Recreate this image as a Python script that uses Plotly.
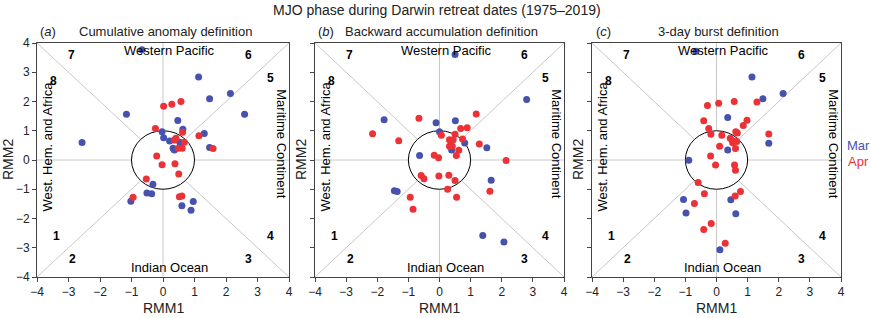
import plotly.graph_objects as go
import numpy as np

# ---------------- data ----------------
panel_titles = ["Cumulative anomaly definition", "Backward accumulation definition", "3-day burst definition"]
panel_letters = ["a", "b", "c"]

a_mar_x = [-0.67, 1.13, 1.48, 2.14, 2.59, -1.16, -2.57, 0.47, 0.63, -0.03, 0.02, 0.21, 0.53, 1.31, 1.48, 0.32, 0.36, -0.32, -0.51, -0.36, -1.02, 0.60, 0.96, 0.89]
a_mar_y = [3.77, 2.84, 2.09, 2.27, 1.56, 1.56, 0.60, 1.35, 1.05, 0.97, 0.76, 0.65, 0.61, 0.91, 0.43, 0.40, 0.34, -0.83, -1.13, -1.15, -1.41, -1.56, -1.42, -1.72]
a_apr_x = [0.02, 0.28, 0.57, -0.24, 0.62, 0.41, 0.36, 0.68, 0.49, 0.61, 1.14, 1.59, -0.20, -0.03, 0.38, 0.50, -0.53, -0.95, 0.52, 0.60]
a_apr_y = [1.84, 1.91, 2.00, 1.08, 0.95, 0.74, 0.68, 0.61, 0.40, 0.40, 0.83, 0.39, 0.14, -0.16, -0.13, -0.48, -0.65, -1.27, -1.26, -1.23]

b_mar_x = [0.50, 2.80, -1.78, -0.11, 0.51, 0.00, 0.81, 0.39, 1.52, -0.64, 1.66, -1.45, -1.36, 1.39, 2.07]
b_mar_y = [3.61, 2.07, 1.38, 1.27, 1.34, 0.97, 0.58, 0.34, 0.42, 0.15, -0.69, -1.05, -1.08, -2.58, -2.80]
b_apr_x = [1.18, -0.66, 0.68, 0.89, -2.15, -1.31, 0.06, 0.50, 0.32, 0.44, 0.74, 0.32, 0.41, 0.62, 1.28, 0.54, -0.17, -0.03, 2.14, -0.59, -0.50, -0.02, 0.30, 0.50, 0.26, 0.55, 1.62, -0.94, -0.85]
b_apr_y = [1.57, 1.43, 1.08, 1.10, 0.90, 0.66, 0.85, 0.88, 0.69, 0.69, 0.72, 0.47, 0.47, 0.33, 0.55, 0.15, 0.16, 0.08, -0.02, -0.53, -0.64, -0.55, -0.52, -0.70, -1.00, -1.27, -1.07, -1.27, -1.68]

c_mar_x = [-0.66, 1.14, 1.49, 2.14, 0.36, 1.68, 0.36, -0.89, -1.06, -0.98, 0.46, 0.62, 0.11]
c_mar_y = [3.72, 2.84, 2.09, 2.27, 1.45, 0.57, 0.34, -0.01, -1.35, -1.81, -1.36, -1.84, -3.07]
c_apr_x = [-0.29, 0.07, 0.57, 1.30, -0.41, 0.98, 0.86, -0.25, -0.18, 0.17, 0.62, 0.67, 0.44, 0.51, 0.65, 0.52, 1.68, 0.10, 0.61, -0.19, -0.03, 0.58, 0.61, -0.59, -0.39, -0.71, 0.60, 0.77, -0.17, -0.41, 0.28]
c_apr_y = [1.86, 1.94, 2.00, 1.98, 1.34, 1.36, 1.18, 1.08, 0.88, 0.85, 0.97, 0.92, 0.74, 0.66, 0.63, 0.59, 0.89, 0.47, 0.39, 0.14, -0.17, -0.17, -0.35, -0.77, -1.15, -1.49, -1.23, -1.08, -2.17, -2.38, -2.85]

tick_vals = [-4, -3, -2, -1, 0, 1, 2, 3, 4]
phase_labels = ["1", "2", "3", "4", "5", "6", "7", "8"]
region_labels = ["Western Pacific", "Indian Ocean", "West. Hem. and Africa", "Maritime Continent"]
legend_labels = ["Mar", "Apr"]

BLUE = "#4652AE"
RED = "#EC3236"
TXT = "#222222"
FONT = "Liberation Sans, Arial, sans-serif"

W, H = 871, 318
x_px = [(37, 289), (315, 564), (592, 841)]
y_px = (43, 277)
rmm2_x = [8, 301, 578]


def px_x(p):
    return p / W


def px_y(p):
    return 1 - p / H


fig = go.Figure()
panels = [(a_mar_x, a_mar_y, a_apr_x, a_apr_y), (b_mar_x, b_mar_y, b_apr_x, b_apr_y), (c_mar_x, c_mar_y, c_apr_x, c_apr_y)]

layout = dict()
annotations = []
shapes = []
r = 1.0
d = r / np.sqrt(2)
seg = [(-4, 0, -r, 0), (r, 0, 4, 0), (0, -4, 0, -r), (0, r, 0, 4),
       (-4, -4, -d, -d), (d, d, 4, 4), (-4, 4, -d, d), (d, -d, 4, -4)]
phase_pos = [(-3.37, -2.59), (-2.87, -3.39), (2.72, -3.39), (3.41, -2.59),
             (3.41, 2.81), (2.72, 3.58), (-2.89, 3.58), (-3.47, 2.70)]

for i, (mx, my, ax_, ay_) in enumerate(panels):
    xa = "x" if i == 0 else f"x{i+1}"
    ya = "y" if i == 0 else f"y{i+1}"
    xkey = "xaxis" if i == 0 else f"xaxis{i+1}"
    ykey = "yaxis" if i == 0 else f"yaxis{i+1}"
    fig.add_trace(go.Scatter(x=mx, y=my, mode="markers", xaxis=xa, yaxis=ya,
                             marker=dict(color=BLUE, size=7), showlegend=False))
    fig.add_trace(go.Scatter(x=ax_, y=ay_, mode="markers", xaxis=xa, yaxis=ya,
                             marker=dict(color=RED, size=7), showlegend=False))
    x0, x1 = x_px[i]
    common = dict(range=[-4, 4], tickvals=tick_vals, ticks="outside", ticklen=4,
                  tickcolor="#444", showgrid=False, zeroline=False, showline=True,
                  linecolor="#444", linewidth=1, mirror=True, automargin=False,
                  tickfont=dict(family=FONT, size=12, color=TXT), fixedrange=True)
    layout[xkey] = dict(domain=[px_x(x0), px_x(x1)], anchor=ya, **common)
    layout[ykey] = dict(domain=[px_y(y_px[1]), px_y(y_px[0])], anchor=xa,
                        showticklabels=(i == 0), **common)
    for (sx0, sy0, sx1, sy1) in seg:
        shapes.append(dict(type="line", xref=xa, yref=ya, x0=sx0, y0=sy0, x1=sx1, y1=sy1,
                           line=dict(color="#C8C8C8", width=1), layer="below"))
    shapes.append(dict(type="circle", xref=xa, yref=ya, x0=-r, y0=-r, x1=r, y1=r,
                       line=dict(color="black", width=1), layer="below"))
    for lab, (px, py) in zip(phase_labels, phase_pos):
        annotations.append(dict(x=px, y=py, xref=xa, yref=ya, text=f"<b>{lab}</b>", showarrow=False,
                                xanchor="center", yanchor="middle",
                                font=dict(family=FONT, size=12, color="black")))
    annotations.append(dict(x=0.22, y=3.73, xref=xa, yref=ya, text=region_labels[0], showarrow=False,
                            xanchor="center", yanchor="middle",
                            font=dict(family=FONT, size=13, color="black")))
    annotations.append(dict(x=0.2, y=-3.69, xref=xa, yref=ya, text=region_labels[1], showarrow=False,
                            xanchor="center", yanchor="middle",
                            font=dict(family=FONT, size=13, color="black")))
    annotations.append(dict(x=-3.66, y=0.45, xref=xa, yref=ya, text=region_labels[2], showarrow=False,
                            textangle=-90, xanchor="center", yanchor="middle",
                            font=dict(family=FONT, size=13, color="black")))
    annotations.append(dict(x=3.78, y=0.57, xref=xa, yref=ya, text=region_labels[3], showarrow=False,
                            textangle=90, xanchor="center", yanchor="middle",
                            font=dict(family=FONT, size=13, color="black")))
    # axis titles
    annotations.append(dict(x=px_x((x0 + x1) / 2), y=px_y(308), xref="paper", yref="paper",
                            text="RMM1", showarrow=False, xanchor="center", yanchor="middle",
                            font=dict(family=FONT, size=14, color=TXT)))
    annotations.append(dict(x=px_x(rmm2_x[i]), y=px_y(160), xref="paper", yref="paper",
                            text="RMM2", showarrow=False, textangle=-90, xanchor="center", yanchor="middle",
                            font=dict(family=FONT, size=14, color=TXT)))
    # panel subtitles
    annotations.append(dict(x=px_x(x0 + 11), y=px_y(32), xref="paper", yref="paper",
                            text=f"(<i>{panel_letters[i]}</i>)", showarrow=False,
                            xanchor="center", yanchor="middle",
                            font=dict(family=FONT, size=13, color=TXT)))
    annotations.append(dict(x=px_x((x0 + x1) / 2 + 2), y=px_y(32), xref="paper", yref="paper",
                            text=panel_titles[i], showarrow=False,
                            xanchor="center", yanchor="middle",
                            font=dict(family=FONT, size=13, color=TXT)))

annotations.append(dict(x=px_x(437), y=px_y(10), xref="paper", yref="paper",
                        text="MJO phase during Darwin retreat dates (1975–2019)", showarrow=False,
                        xanchor="center", yanchor="middle",
                        font=dict(family=FONT, size=14, color=TXT)))
annotations.append(dict(x=px_x(858), y=px_y(145), xref="paper", yref="paper", text=legend_labels[0],
                        showarrow=False, xanchor="center", yanchor="middle", borderpad=0,
                        font=dict(family=FONT, size=13, color=BLUE)))
annotations.append(dict(x=px_x(858), y=px_y(161), xref="paper", yref="paper", text=legend_labels[1],
                        showarrow=False, xanchor="center", yanchor="middle", borderpad=0,
                        font=dict(family=FONT, size=13, color=RED)))

fig.update_layout(width=W, height=H, margin=dict(l=0, r=0, t=0, b=0, pad=0, autoexpand=False),
                  paper_bgcolor="white", plot_bgcolor="white",
                  annotations=annotations, shapes=shapes, showlegend=False, **layout)

fig.write_html("out.html", config={"displayModeBar": False},
               post_script="document.body.style.margin='0px';")
